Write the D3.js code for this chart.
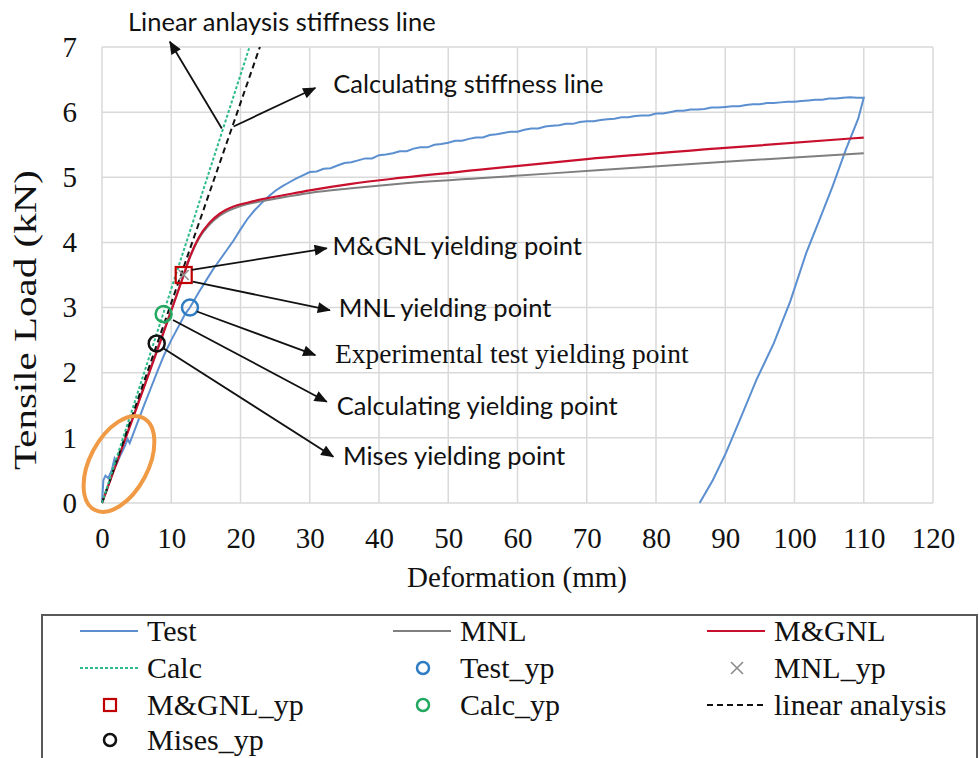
<!DOCTYPE html>
<html>
<head>
<meta charset="utf-8">
<script src="https://cdn.jsdelivr.net/npm/d3@7"></script>
<style>
  body { margin: 0; background: #fff; }
  svg { display: block; }
</style>
</head>
<body>
<svg id="chart" width="979" height="758"></svg>
<script>
// ---- data: [deformation (mm), tensile load (kN)] ----
const testCurve = [
  [0,0],[0.2,0.35],[0.5,0.42],[0.9,0.38],[1.4,0.5],[1.8,0.68],[2.1,0.6],[2.6,0.72],[3.2,0.85],[3.7,0.98],[4.0,0.92],
  [5,1.2],[6,1.48],[7,1.75],[8,2.02],[9,2.28],[10,2.5],[11,2.7],[12,2.9],[12.7,3.0],[14,3.24],[15,3.41],[16,3.58],
  [17,3.73],[18,3.88],[19,4.03],[20,4.2],[21,4.36],[22,4.49],[23,4.6],[24,4.7],[25,4.79],[26,4.86],[27,4.92],
  [28,4.98],[29,5.03],[30,5.08],[31,5.09],[32,5.13],[33,5.14],[34,5.18],[35,5.22],[36,5.23],[37,5.26],[38,5.29],
  [39,5.29],[40,5.34],[41,5.35],[42,5.37],[43,5.40],[44,5.40],[45,5.44],[46,5.46],[47,5.46],[48,5.50],[49,5.51],
  [50,5.53],[51,5.56],[52,5.56],[53,5.59],[54,5.61],[55,5.61],[56,5.65],[57,5.66],[58,5.68],[59,5.70],[60,5.70],
  [61,5.73],[62,5.75],[63,5.75],[64,5.78],[65,5.79],[66,5.80],[67,5.82],[68,5.82],[69,5.85],[70,5.86],[71,5.86],
  [72,5.88],[73,5.89],[74,5.90],[75,5.92],[76,5.92],[77,5.94],[78,5.95],[79,5.95],[80,5.98],[81,5.98],[82,6.00],
  [83,6.02],[84,6.02],[85,6.04],[86,6.04],[87,6.05],[88,6.07],[89,6.07],[90,6.08],[91,6.09],[92,6.09],[93,6.11],
  [94,6.12],[95,6.12],[96,6.14],[97,6.14],[98,6.15],[99,6.16],[100,6.16],[101,6.17],[102,6.18],[103,6.19],
  [104,6.19],[105,6.21],[106,6.21],[107,6.22],[108,6.23],[109,6.22],[110,6.22],
  [109.2,5.9],[107.4,5.42],[105.5,4.86],[103.5,4.32],[101.7,3.84],[99.4,3.1],[97,2.45],[94.5,1.89],
  [92.2,1.3],[90.1,0.77],[88.2,0.35],[86.3,0]
];
const mnlCurve = [
  [0,0],[11.8,3.5],[12.7,3.77],[14,4.06],[15.5,4.27],[17,4.41],[19,4.52],[21,4.59],[23,4.63],[26,4.69],
  [30,4.76],[36,4.83],[43,4.9],[55,4.99],[72,5.11],[90,5.24],[110,5.37]
];
const mgnlCurve = [
  [0,0],[11.8,3.5],[12.7,3.78],[14,4.08],[15.5,4.3],[17,4.44],[19,4.55],[21,4.61],[23,4.66],[26,4.72],
  [30,4.8],[36,4.9],[43,4.99],[55,5.12],[70,5.28],[90,5.45],[110,5.61]
];
const calcLine = [[0,0],[21.3,7]];
const linearLine = [[0,0],[22.8,7]];

const testYp = [[12.7,3.0]];
const calcYp = [[8.9,2.9]];
const misesYp = [[7.9,2.45]];
const mgnlYp = [[11.8,3.5]];
const mnlYp = [[11.8,3.5]];

const xTicks = [0,10,20,30,40,50,60,70,80,90,100,110,120];
const yTicks = [0,1,2,3,4,5,6,7];

// annotation texts with arrow from / to (data units)
const notes = [
  {text: "Linear anlaysis stiffness line", at: [3.75,7.24], from: [17.3,5.75], to: [9.8,7.08]},
  {text: "Calculating stiffness line", at: [33.4,6.29], from: [19.0,5.78], to: [30.8,6.37]},
  {text: "M&GNL yielding point", at: [33.3,3.81], from: [12.95,3.58], to: [32.45,3.91]},
  {text: "MNL yielding point", at: [34.2,2.855], from: [13.1,3.4], to: [32.9,2.96]},
  {text: "Experimental test yielding point", at: [33.65,2.145], from: [13.7,2.94], to: [30.8,2.27], serif: true},
  {text: "Calculating yielding point", at: [33.9,1.35], from: [10.25,2.81], to: [32.45,1.555]},
  {text: "Mises yielding point", at: [34.8,0.583], from: [8.85,2.375], to: [33.4,0.71]}
];

const SERIF = "'Liberation Serif','Times New Roman',serif";
const SANS = "Lato,'Open Sans',sans-serif";

const svg = d3.select("#chart");
svg.append("rect").attr("width", 979).attr("height", 758).attr("fill", "#fff");

const x = d3.scaleLinear().domain([0, 120]).range([102, 933]);
const y = d3.scaleLinear().domain([0, 7]).range([503, 47]);

const defs = svg.append("defs");
defs.append("marker")
  .attr("id", "arrow")
  .attr("viewBox", "0 0 12 10")
  .attr("refX", 11).attr("refY", 5)
  .attr("markerUnits", "userSpaceOnUse")
  .attr("markerWidth", 14).attr("markerHeight", 11)
  .attr("orient", "auto")
  .append("path").attr("d", "M0,0 L12,5 L0,10 z").attr("fill", "#111");

// gridlines
const grid = svg.append("g").attr("stroke", "#d9d9d9").attr("stroke-width", 1.5);
grid.selectAll("line.v").data(xTicks).enter().append("line")
  .attr("x1", d => x(d)).attr("x2", d => x(d))
  .attr("y1", y(0)).attr("y2", y(7));
grid.selectAll("line.h").data(yTicks).enter().append("line")
  .attr("x1", x(0)).attr("x2", x(120))
  .attr("y1", d => y(d)).attr("y2", d => y(d));

// axes (labels only)
const xAxis = d3.axisBottom(x).tickValues(xTicks).tickSize(0).tickPadding(24).tickFormat(d3.format("d"));
const yAxis = d3.axisLeft(y).tickValues(yTicks).tickSize(0).tickPadding(25).tickFormat(d3.format("d"));

svg.append("g").attr("transform", `translate(0, ${y(0)})`).call(xAxis)
  .call(g => g.select(".domain").remove())
  .selectAll("text").attr("font-family", SERIF).attr("font-size", 29).attr("fill", "#111");
svg.append("g").attr("transform", `translate(${x(0)}, 0)`).call(yAxis)
  .call(g => g.select(".domain").remove())
  .selectAll("text").attr("font-family", SERIF).attr("font-size", 29).attr("fill", "#111");

svg.append("text")
  .attr("x", 517).attr("y", 587)
  .attr("text-anchor", "middle")
  .attr("font-family", SERIF).attr("font-size", 29).attr("fill", "#111")
  .text("Deformation (mm)");
svg.append("text")
  .attr("transform", "translate(36, 320) rotate(-90)")
  .attr("text-anchor", "middle")
  .attr("font-family", SERIF).attr("font-size", 31).attr("fill", "#111")
  .attr("textLength", 300).attr("lengthAdjust", "spacingAndGlyphs")
  .text("Tensile Load (kN)");

// series
const line = d3.line().x(d => x(d[0])).y(d => y(d[1]));
const smooth = d3.line().x(d => x(d[0])).y(d => y(d[1])).curve(d3.curveMonotoneX);

svg.append("path").datum(testCurve).attr("d", line)
  .attr("fill", "none").attr("stroke", "#5b8fd0").attr("stroke-width", 2);
svg.append("path").datum(mnlCurve).attr("d", smooth)
  .attr("fill", "none").attr("stroke", "#7f7f7f").attr("stroke-width", 2);
svg.append("path").datum(mgnlCurve).attr("d", smooth)
  .attr("fill", "none").attr("stroke", "#c8102e").attr("stroke-width", 2.2);
svg.append("path").datum(linearLine).attr("d", line)
  .attr("fill", "none").attr("stroke", "#111").attr("stroke-width", 2)
  .attr("stroke-dasharray", "6,4");
svg.append("path").datum(calcLine).attr("d", line)
  .attr("fill", "none").attr("stroke", "#2dbb8a").attr("stroke-width", 2)
  .attr("stroke-dasharray", "3,2");

// orange highlight ellipse round the origin
svg.append("ellipse")
  .attr("cx", x(2.45)).attr("cy", y(0.6))
  .attr("rx", 52).attr("ry", 29)
  .attr("transform", `rotate(-62, ${x(2.45)}, ${y(0.6)})`)
  .attr("fill", "none").attr("stroke", "#f09a45").attr("stroke-width", 4);

// yield point markers
function circles(data, color) {
  svg.append("g").selectAll("circle").data(data).enter().append("circle")
    .attr("cx", d => x(d[0])).attr("cy", d => y(d[1])).attr("r", 8)
    .attr("fill", "none").attr("stroke", color).attr("stroke-width", 2.5);
}
circles(testYp, "#2e7dc4");
circles(calcYp, "#22a860");
circles(misesYp, "#111");

svg.append("g").selectAll("rect").data(mgnlYp).enter().append("rect")
  .attr("x", d => x(d[0]) - 8).attr("y", d => y(d[1]) - 8)
  .attr("width", 16).attr("height", 16)
  .attr("fill", "none").attr("stroke", "#c00000").attr("stroke-width", 2.2);
svg.append("g").selectAll("path").data(mnlYp).enter().append("path")
  .attr("d", d => `M${x(d[0]) - 5},${y(d[1]) - 5}L${x(d[0]) + 5},${y(d[1]) + 5}M${x(d[0]) - 5},${y(d[1]) + 5}L${x(d[0]) + 5},${y(d[1]) - 5}`)
  .attr("stroke", "#8c8c8c").attr("stroke-width", 1.6);

// annotations
const ann = svg.append("g");
ann.selectAll("line").data(notes).enter().append("line")
  .attr("x1", d => x(d.from[0])).attr("y1", d => y(d.from[1]))
  .attr("x2", d => x(d.to[0])).attr("y2", d => y(d.to[1]))
  .attr("stroke", "#111").attr("stroke-width", 1.8)
  .attr("marker-end", "url(#arrow)");
ann.selectAll("text").data(notes).enter().append("text")
  .attr("x", d => x(d.at[0])).attr("y", d => y(d.at[1]))
  .attr("font-family", d => d.serif ? SERIF : SANS)
  .attr("font-size", d => d.serif ? 27.5 : 25.5)
  .attr("fill", "#111")
  .text(d => d.text);

// legend
const legendItems = [
  {label: "Test", kind: "line", color: "#5b8fd0"},
  {label: "MNL", kind: "line", color: "#7f7f7f"},
  {label: "M&GNL", kind: "line", color: "#c8102e"},
  {label: "Calc", kind: "line", color: "#2dbb8a", dash: "3,2"},
  {label: "Test_yp", kind: "circle", color: "#2e7dc4"},
  {label: "MNL_yp", kind: "cross", color: "#8c8c8c"},
  {label: "M&GNL_yp", kind: "square", color: "#c00000"},
  {label: "Calc_yp", kind: "circle", color: "#22a860"},
  {label: "linear analysis", kind: "line", color: "#111", dash: "6,4"},
  {label: "Mises_yp", kind: "circle", color: "#111"}
];
const colX = [80, 393, 707];
const rowY = [631, 668, 705, 740];

svg.append("rect")
  .attr("x", 42).attr("y", 615).attr("width", 935).attr("height", 200)
  .attr("fill", "none").attr("stroke", "#595959").attr("stroke-width", 2);

const leg = svg.append("g").selectAll("g").data(legendItems).enter().append("g")
  .attr("transform", (d, i) => `translate(${colX[i % 3]}, ${rowY[Math.floor(i / 3)]})`);

leg.each(function(d) {
  const g = d3.select(this);
  if (d.kind === "line") {
    g.append("line").attr("x1", 0).attr("x2", 58).attr("y1", 0).attr("y2", 0)
      .attr("stroke", d.color).attr("stroke-width", 2)
      .attr("stroke-dasharray", d.dash || null);
  } else if (d.kind === "circle") {
    g.append("circle").attr("cx", 30).attr("cy", 0).attr("r", 6)
      .attr("fill", "none").attr("stroke", d.color).attr("stroke-width", 2.5);
  } else if (d.kind === "square") {
    g.append("rect").attr("x", 24).attr("y", -6).attr("width", 12).attr("height", 12)
      .attr("fill", "none").attr("stroke", d.color).attr("stroke-width", 2.2);
  } else {
    g.append("path").attr("d", "M24,-6L36,6M24,6L36,-6")
      .attr("stroke", d.color).attr("stroke-width", 1.6);
  }
  g.append("text").attr("x", 67).attr("y", 10)
    .attr("font-family", SERIF).attr("font-size", 30).attr("fill", "#111")
    .text(d.label);
});
</script>
</body>
</html>
